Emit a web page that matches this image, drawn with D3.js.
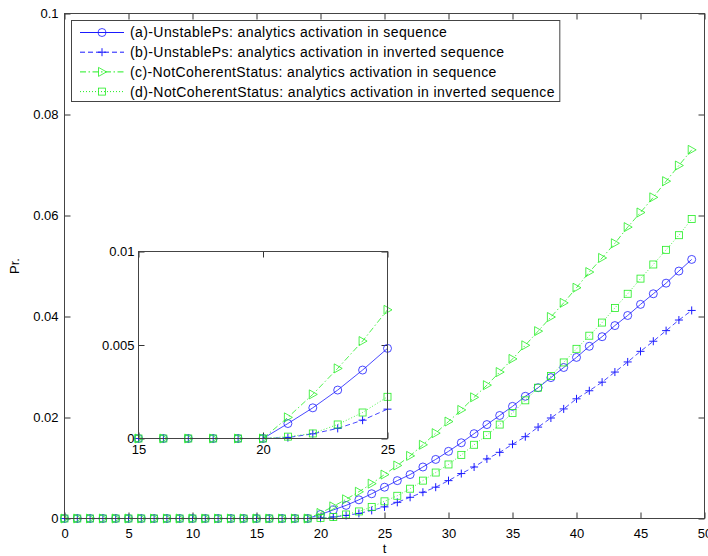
<!DOCTYPE html>
<html lang="en">
<head>
  <meta charset="UTF-8">
  <title>Pr. vs t</title>
  <style>
    * { margin: 0; }
    body { background: #fff; }
    svg { display: block; }
    text { font-family: "Liberation Sans", Helvetica, Arial, sans-serif; font-size: 13px; fill: #000; }
    .legend text { font-size: 14px; letter-spacing: 0.4px; }
    .axis path { display: none; }
    .axis line { stroke: #333; stroke-width: 1; }
  </style>
</head>
<body>
  <div id="chart"></div>
  <script src="https://cdnjs.cloudflare.com/ajax/libs/d3/7.8.5/d3.min.js"></script>
  <script>
    // time steps 0..49
    const t = d3.range(0, 50);
    const zeros20 = new Array(20).fill(0);

    const seqUnstable = zeros20.concat([
      0.0008, 0.0017, 0.0026, 0.0037, 0.0049,
      0.0062, 0.0075, 0.0087, 0.0102, 0.0117, 0.0133, 0.0150, 0.0168, 0.0186, 0.0204,
      0.0222, 0.0242, 0.0259, 0.0279, 0.0299, 0.0319, 0.0341, 0.0360, 0.0382, 0.0402,
      0.0424, 0.0445, 0.0466, 0.0490, 0.0513]);
    const invUnstable = zeros20.concat([
      0.00005, 0.0003, 0.0006, 0.0010, 0.0016,
      0.0023, 0.0032, 0.0042, 0.0052, 0.0062, 0.0075, 0.0089, 0.0102, 0.0118, 0.0131,
      0.0147, 0.0162, 0.0181, 0.0199, 0.0217, 0.0237, 0.0253, 0.0270, 0.0290, 0.0310,
      0.0331, 0.0351, 0.0372, 0.0393, 0.0412]);
    const seqNotCoherent = zeros20.concat([
      0.0011, 0.0024, 0.0038, 0.0053, 0.0069,
      0.0087, 0.0105, 0.0124, 0.0146, 0.0169, 0.0192, 0.0215, 0.0240, 0.0264, 0.0290,
      0.0316, 0.0343, 0.0371, 0.0399, 0.0427, 0.0457, 0.0488, 0.0516, 0.0545, 0.0577,
      0.0606, 0.0636, 0.0668, 0.0699, 0.0730]);
    const invNotCoherent = zeros20.concat([
      0.0001, 0.0003, 0.0008, 0.0014, 0.0023,
      0.0034, 0.0045, 0.0059, 0.0075, 0.0091, 0.0107, 0.0126, 0.0146, 0.0165, 0.0186,
      0.0209, 0.0234, 0.0259, 0.0282, 0.0309, 0.0336, 0.0362, 0.0388, 0.0417, 0.0445,
      0.0475, 0.0503, 0.0532, 0.0561, 0.0593]);

    // zoomed view, t = 15..25
    const insetT = d3.range(15, 26);
    const insetSeqUnstable = [0, 0, 0, 0, 0, 0, 0.0008, 0.00164, 0.00259, 0.00366, 0.00482];
    const insetInvUnstable = [0, 0, 0, 0, 0, 0, 0.00005, 0.00025, 0.00054, 0.00098, 0.00157];
    const insetSeqNotCoherent = [0, 0, 0, 0, 0, 0, 0.00113, 0.00236, 0.00375, 0.00521, 0.00688];
    const insetInvNotCoherent = [0, 0, 0, 0, 0, 0, 0.0001, 0.00027, 0.00075, 0.00139, 0.00223];

    const xTicks = [0, 5, 10, 15, 20, 25, 30, 35, 40, 45, 50];
    const yTicks = [0, 0.02, 0.04, 0.06, 0.08, 0.1];
    const insetXTicks = [15, 20, 25];
    const insetYTicks = [0, 0.005, 0.01];

    const labels = [
      '(a)-UnstablePs: analytics activation in sequence',
      '(b)-UnstablePs: analytics activation in inverted sequence',
      '(c)-NotCoherentStatus: analytics activation in sequence',
      '(d)-NotCoherentStatus: analytics activation in inverted sequence'
    ];

    const styles = [
      { color: '#1a1aff', dash: null, marker: 'circle' },
      { color: '#1a1aff', dash: '5,3', marker: 'plus' },
      { color: '#22ee22', dash: '6,2.5,1.5,2.5', marker: 'triangle' },
      { color: '#22ee22', dash: '1,2', marker: 'square' }
    ];

    const width = 708, height = 556;
    const svg = d3.select('#chart').append('svg')
      .attr('width', width)
      .attr('height', height);

    function drawMarker(g, kind, cx, cy, color) {
      if (kind === 'circle') {
        g.append('circle').attr('cx', cx).attr('cy', cy).attr('r', 4)
          .attr('fill', 'none').attr('stroke', color).attr('stroke-width', 0.8);
      } else if (kind === 'plus') {
        g.append('path').attr('d', `M${cx - 4},${cy}H${cx + 4}M${cx},${cy - 4}V${cy + 4}`)
          .attr('stroke', color).attr('stroke-width', 1);
      } else if (kind === 'triangle') {
        g.append('path').attr('d', `M${cx - 3.5},${cy - 4.5}L${cx + 4.5},${cy}L${cx - 3.5},${cy + 4.5}Z`)
          .attr('fill', 'none').attr('stroke', color).attr('stroke-width', 0.8);
      } else {
        g.append('rect').attr('x', cx - 3.5).attr('y', cy - 3.5).attr('width', 7).attr('height', 7)
          .attr('fill', 'none').attr('stroke', color).attr('stroke-width', 0.8);
      }
    }

    function drawSeries(g, xs, ys, x, y, st) {
      const pts = xs.map((d, i) => [x(d), y(ys[i])]);
      g.append('path')
        .attr('d', d3.line()(pts))
        .attr('fill', 'none')
        .attr('stroke', st.color)
        .attr('stroke-width', 0.8)
        .attr('stroke-dasharray', st.dash);
      pts.forEach(p => drawMarker(g, st.marker, p[0], p[1], st.color));
    }

    function drawFrame(g, x, y, xt, yt, fmtX, fmtY, pad) {
      const [x0, x1] = x.range();
      const [y0, y1] = y.range();
      g.append('rect')
        .attr('x', x0).attr('y', y1)
        .attr('width', x1 - x0).attr('height', y0 - y1)
        .attr('fill', '#fff');
      g.append('g').attr('class', 'axis')
        .attr('transform', `translate(0,${y0})`)
        .call(d3.axisBottom(x).tickValues(xt).tickSizeInner(-6).tickSizeOuter(0)
          .tickPadding(pad.x).tickFormat(fmtX));
      g.append('g').attr('class', 'axis')
        .attr('transform', `translate(0,${y1})`)
        .call(d3.axisTop(x).tickValues(xt).tickSizeInner(-6).tickSizeOuter(0).tickFormat(''));
      g.append('g').attr('class', 'axis')
        .attr('transform', `translate(${x0},0)`)
        .call(d3.axisLeft(y).tickValues(yt).tickSizeInner(-6).tickSizeOuter(0)
          .tickPadding(pad.y).tickFormat(fmtY));
      g.append('g').attr('class', 'axis')
        .attr('transform', `translate(${x1},0)`)
        .call(d3.axisRight(y).tickValues(yt).tickSizeInner(-6).tickSizeOuter(0).tickFormat(''));
      g.selectAll('.axis text').style('font-size', '13px').style('font-family', null);
    }

    function drawBorder(g, x, y) {
      const [x0, x1] = x.range();
      const [y0, y1] = y.range();
      g.append('rect')
        .attr('x', x0).attr('y', y1)
        .attr('width', x1 - x0).attr('height', y0 - y1)
        .attr('fill', 'none').attr('stroke', '#444').attr('stroke-width', 1);
    }

    const fmt = d => String(+d.toFixed(4));

    // main plot
    const x = d3.scaleLinear().domain([0, 50]).range([64.5, 704.5]);
    const y = d3.scaleLinear().domain([0, 0.1]).range([518.5, 13.5]);
    const main = svg.append('g');
    drawFrame(main, x, y, xTicks, yTicks, fmt, fmt, { x: 10, y: 6 });

    const mainSeries = [seqUnstable, invUnstable, seqNotCoherent, invNotCoherent];
    mainSeries.forEach((vals, i) => drawSeries(main, t, vals, x, y, styles[i]));
    drawBorder(main, x, y);

    main.append('text')
      .attr('x', x(25)).attr('y', 553)
      .attr('text-anchor', 'middle')
      .text('t');
    main.append('text')
      .attr('transform', `translate(19,${y(0.05)}) rotate(-90)`)
      .attr('text-anchor', 'middle')
      .text('Pr.');

    // inset plot
    const xi = d3.scaleLinear().domain([15, 25]).range([138.5, 387.5]);
    const yi = d3.scaleLinear().domain([0, 0.01]).range([438.5, 251.5]);
    const inset = svg.append('g');
    drawFrame(inset, xi, yi, insetXTicks, insetYTicks, fmt, fmt, { x: 6, y: 4 });
    const insetSeries = [insetSeqUnstable, insetInvUnstable, insetSeqNotCoherent, insetInvNotCoherent];
    insetSeries.forEach((vals, i) => drawSeries(inset, insetT, vals, xi, yi, styles[i]));
    drawBorder(inset, xi, yi);

    // legend
    const legend = svg.append('g').attr('class', 'legend');
    const lx = 71.5, ly = 20.5, rowH = 19.7, textX = 130;
    const box = legend.append('rect')
      .attr('x', lx).attr('y', ly)
      .attr('height', 81)
      .attr('fill', '#fff').attr('stroke', '#444').attr('stroke-width', 1);
    let maxLen = 0;
    labels.forEach((lab, i) => {
      const cy = ly + 12 + i * rowH;
      const st = styles[i];
      legend.append('line')
        .attr('x1', 80).attr('x2', 124)
        .attr('y1', cy).attr('y2', cy)
        .attr('stroke', st.color).attr('stroke-width', 1)
        .attr('stroke-dasharray', st.dash);
      drawMarker(legend, st.marker, 102, cy, st.color);
      const txt = legend.append('text')
        .attr('x', textX).attr('y', cy)
        .attr('dy', '0.35em')
        .text(lab);
      maxLen = Math.max(maxLen, txt.node().getComputedTextLength());
    });
    box.attr('width', textX + maxLen + 5 - lx);
  </script>
</body>
</html>
